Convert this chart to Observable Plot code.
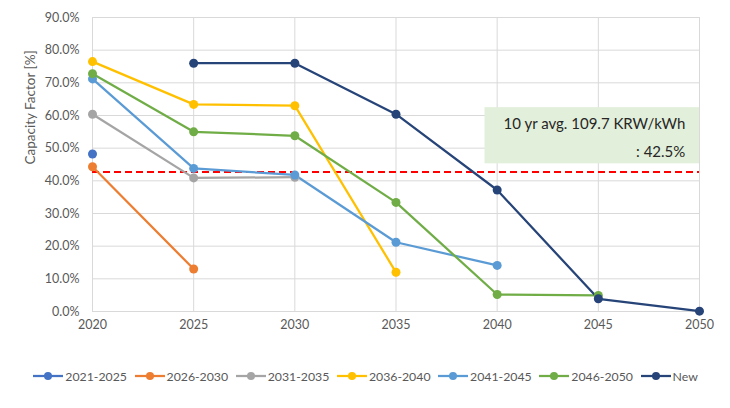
<!DOCTYPE html>
<html><head><meta charset="utf-8">
<script src="https://cdn.jsdelivr.net/npm/d3@7"></script>
<script src="https://cdn.jsdelivr.net/npm/@observablehq/plot@0.6"></script>
<style>
body{margin:0;background:#fff;font-family:Lato,"Open Sans",sans-serif;}
#legend{position:relative;height:24px;margin-top:19px;font-family:Lato,sans-serif;font-size:12.3px;color:#595959;}
.item{position:absolute;top:0;display:flex;align-items:center;height:24px;white-space:nowrap;}
.item span{margin-left:2px;}
</style>
</head><body>
<div id="chart"></div>
<div id="legend"></div>
<script>
const years = [2020, 2025, 2030, 2035, 2040, 2045, 2050];
const seriesNames = ["2021-2025", "2026-2030", "2031-2035", "2036-2040", "2041-2045", "2046-2050", "New"];
const seriesColors = ["#4472C4", "#ED7D31", "#A5A5A5", "#FFC000", "#5B9BD5", "#70AD47", "#264478"];
const cf2021_2025 = [48.2, null, null, null, null, null, null];
const cf2026_2030 = [44.3, 13.0, null, null, null, null, null];
const cf2031_2035 = [60.4, 40.9, 41.1, null, null, null, null];
const cf2036_2040 = [76.5, 63.4, 63.0, 12.0, null, null, null];
const cf2041_2045 = [71.2, 43.8, 41.8, 21.2, 14.1, null, null];
const cf2046_2050 = [72.8, 55.0, 53.8, 33.4, 5.2, 4.9, null];
const cfNew = [null, 76.0, 76.0, 60.4, 37.2, 3.9, 0.1];
const yTicks = [0, 10, 20, 30, 40, 50, 60, 70, 80, 90];
const yLabel = "Capacity Factor [%]";
const avgValue = 42.7;
const noteLines = ["10 yr avg. 109.7 KRW/kWh", ": 42.5%"];
const noteBox = {x1: 2039.4, x2: 2050, y1: 45.2, y2: 62.4};
const noteTextX = 2049.3;
const noteTextY = [57.2, 48.9];

const allSeries = [cf2021_2025, cf2026_2030, cf2031_2035, cf2036_2040, cf2041_2045, cf2046_2050, cfNew];
const rows = [];
allSeries.forEach((vals, i) => vals.forEach((v, j) => {
  if (v != null) rows.push({series: seriesNames[i], year: years[j], value: v});
}));

const plot = Plot.plot({
  width: 730,
  height: 345,
  marginLeft: 92,
  marginRight: 31,
  marginTop: 17,
  marginBottom: 34,
  style: {fontFamily: "Lato, 'Open Sans', sans-serif", color: "#595959", background: "#fff"},
  x: {domain: [2020, 2050]},
  y: {domain: [0, 90]},
  color: {domain: seriesNames, range: seriesColors},
  marks: [
    Plot.gridX(years, {stroke: "#d9d9d9", strokeOpacity: 1, strokeWidth: 1}),
    Plot.gridY(yTicks, {stroke: "#d9d9d9", strokeOpacity: 1, strokeWidth: 1}),
    Plot.axisY(yTicks, {tickSize: 0, tickPadding: 13, fontSize: 12.5, fill: "#595959",
      tickFormat: d => d.toFixed(1) + "%", label: null}),
    Plot.text([yLabel], {frameAnchor: "left", dx: -62, rotate: -90, fontSize: 13.5, fill: "#595959", text: d => d}),
    Plot.axisX(years, {tickSize: 0, tickPadding: 9, fontSize: 12.5, fill: "#595959",
      tickFormat: d => String(d), label: null}),
    Plot.rect([noteBox], {x1: "x1", x2: "x2", y1: "y1", y2: "y2", fill: "#e2efda"}),
    Plot.text(noteLines, {x: noteTextX, y: (d, i) => noteTextY[i], text: d => d,
      textAnchor: "end", fontSize: 15, fill: "#262626"}),
    Plot.ruleY([avgValue], {stroke: "#ff0000", strokeWidth: 2, strokeDasharray: "7,4"}),
    Plot.line(rows, {x: "year", y: "value", z: "series", stroke: "series", strokeWidth: 2.25}),
    Plot.dot(rows, {x: "year", y: "value", fill: "series", r: 4.5})
  ]
});
document.getElementById("chart").appendChild(plot);

const legend = document.getElementById("legend");
seriesNames.forEach((name, i) => {
  const item = document.createElement("div");
  item.className = "item";
  item.style.left = (33.3 + 101.2 * i) + "px";
  item.innerHTML = `<svg width="30" height="10"><line x1="0" y1="5" x2="30" y2="5" stroke="${seriesColors[i]}" stroke-width="2.25"/><circle cx="15" cy="5" r="4" fill="${seriesColors[i]}"/></svg><span>${name}</span>`;
  legend.appendChild(item);
});
</script>
</body></html>
